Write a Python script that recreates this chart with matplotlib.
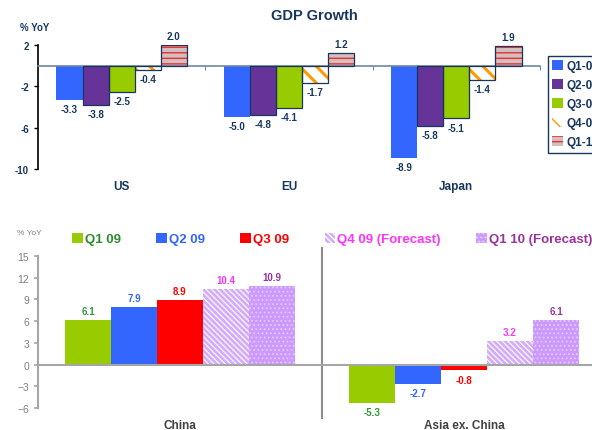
import matplotlib
matplotlib.use('Agg')
import matplotlib.pyplot as plt
import numpy as np

plt.rcParams['font.family'] = ['Liberation Sans', 'DejaVu Sans']
plt.rcParams['hatch.linewidth'] = 1.0

# ---------------- data ----------------
top_regions = ['US', 'EU', 'Japan']
top_series = ['Q1-09', 'Q2-09', 'Q3-09', 'Q4-09', 'Q1-10']
q1_09 = [-3.3, -5.0, -8.9]
q2_09 = [-3.8, -4.8, -5.8]
q3_09 = [-2.5, -4.1, -5.1]
q4_09 = [-0.4, -1.7, -1.4]
q1_10 = [2.0, 1.2, 1.9]
top_yticks = [2, -2, -6, -10]

bot_regions = ['China', 'Asia ex. China']
bot_series = ['Q1 09', 'Q2 09', 'Q3 09', 'Q4 09 (Forecast)', 'Q1 10 (Forecast)']
china = [6.1, 7.9, 8.9, 10.4, 10.9]
asia = [-5.3, -2.7, -0.8, 3.2, 6.1]
bot_yticks = [15, 12, 9, 6, 3, 0, -3, -6]

# ---------------- figure ----------------
W, H = 592, 431
fig = plt.figure(figsize=(W / 100, H / 100), dpi=100)
navy = '#17375E'

fig.text(314 / W, 1 - 16 / H, 'GDP Growth', ha='center', va='center',
         fontsize=10.5, fontweight='bold', color=navy)

# ---------- top chart ----------
ax1 = fig.add_axes([38 / W, 1 - 170 / H, (540 - 38) / W, 124 / H])
top_vals = [q1_09, q2_09, q3_09, q4_09, q1_10]
top_styles = [
    dict(facecolor='#3366FF', edgecolor='#3366FF', hatch=None, outline=False, hlw=1.0),
    dict(facecolor='#663399', edgecolor='#663399', hatch=None, outline=True, hlw=1.0),
    dict(facecolor='#99CC00', edgecolor='#99CC00', hatch=None, outline=True, hlw=1.0),
    dict(facecolor='white', edgecolor='#FF9900', hatch='\\\\', outline=True, hlw=2.2),
    dict(facecolor='#D2BEBE', edgecolor='#E83030', hatch='---', outline=True, hlw=1.0),
]
x = np.arange(len(top_regions))
w = 0.156
handles = []
for i, (vals, st, name) in enumerate(zip(top_vals, top_styles, top_series)):
    pos = x + (i - 2) * w
    with plt.rc_context({'hatch.linewidth': st['hlw']}):
        b = ax1.bar(pos, vals, w, facecolor=st['facecolor'], edgecolor=st['edgecolor'],
                    hatch=st['hatch'], linewidth=0, label=name, zorder=2)
    handles.append(b)
    if st['outline']:
        ax1.bar(pos, vals, w, fill=False, edgecolor=navy, linewidth=0.9, zorder=3)
    for p, v in zip(pos, vals):
        ax1.annotate(f'{v:.1f}', (p, v), xytext=(0, 3 if v > 0 else -3),
                     textcoords='offset points', ha='center',
                     va='bottom' if v > 0 else 'top', fontsize=7,
                     fontweight='bold', color=navy)

ax1.set_xlim(-0.5, 2.5)
ax1.set_ylim(-10, 2)
ax1.set_yticks(top_yticks)
ax1.set_yticklabels([str(t) for t in top_yticks])
ax1.tick_params(axis='y', direction='out', length=3, width=1, colors='black',
                labelsize=7, labelcolor=navy)
for t in ax1.get_yticklabels():
    t.set_fontweight('bold')
ax1.spines['top'].set_visible(False)
ax1.spines['right'].set_visible(False)
ax1.spines['left'].set_linewidth(1.2)
ax1.spines['bottom'].set_position(('data', 0))
ax1.spines['bottom'].set_color('#6E87A3')
ax1.spines['bottom'].set_linewidth(1.2)
ax1.set_xticks([0.5, 1.5, 2.5])
ax1.set_xticklabels([])
ax1.tick_params(axis='x', direction='out', length=3, colors='#6E87A3')
for i, r in enumerate(top_regions):
    ax1.annotate(r, (i, -10), xytext=(0, -12), textcoords='offset points',
                 ha='center', va='center', fontsize=8.5, fontweight='bold',
                 color=navy, annotation_clip=False)
fig.text(20 / W, 1 - 28 / H, '% YoY', ha='left', va='center', fontsize=7,
         fontweight='bold', color=navy)

leg1 = fig.legend(handles=handles, labels=top_series, loc='upper left',
                  bbox_to_anchor=(548 / W, 1 - 57 / H), bbox_transform=fig.transFigure,
                  borderaxespad=0, fancybox=False, edgecolor=navy, framealpha=1,
                  handlelength=0.9, handleheight=0.9, handletextpad=0.3,
                  labelspacing=0.6, borderpad=0.35,
                  prop=dict(size=8.5, weight='bold'), labelcolor=navy)
leg1.get_frame().set_linewidth(1.0)

# ---------- bottom chart ----------
ax2 = fig.add_axes([38 / W, 1 - 409 / H, (606 - 38) / W, 152 / H])
bot_styles = [
    dict(facecolor='#99CC00', edgecolor='#99CC00', hatch=None, text='#339933'),
    dict(facecolor='#3366FF', edgecolor='#3366FF', hatch=None, text='#3366FF'),
    dict(facecolor='#FF0000', edgecolor='#FF0000', hatch=None, text='#FF0000'),
    dict(facecolor='#D4ADFA', edgecolor='white', hatch='\\\\\\\\\\\\', text='#FF33FF'),
    dict(facecolor='#CC99FF', edgecolor='#E6CCFF', hatch='....', text='#993399'),
]
xb = np.arange(len(bot_regions))
wb = 0.162
bhandles = []
for i, (st, name) in enumerate(zip(bot_styles, bot_series)):
    vals = [china[i], asia[i]]
    pos = xb + (i - 2) * wb
    with plt.rc_context({'hatch.linewidth': 0.8}):
        b = ax2.bar(pos, vals, wb, facecolor=st['facecolor'], edgecolor=st['edgecolor'],
                    hatch=st['hatch'], linewidth=0, label=name, zorder=2)
    bhandles.append(b)
    for p, v in zip(pos, vals):
        ax2.annotate(f'{v:.1f}', (p, v), xytext=(0, 3 if v > 0 else -3),
                     textcoords='offset points', ha='center',
                     va='bottom' if v > 0 else 'top', fontsize=7,
                     fontweight='bold', color=st['text'])

gray = '#A6A6A6'
ax2.set_xlim(-0.5, 1.5)
ax2.set_ylim(-6, 15)
ax2.set_yticks(bot_yticks)
ax2.tick_params(axis='y', direction='out', length=3, width=1.2, colors=gray,
                labelsize=7.5, labelcolor='#808080')
ax2.spines['top'].set_visible(False)
ax2.spines['right'].set_visible(False)
ax2.spines['left'].set_color(gray)
ax2.spines['left'].set_linewidth(1.5)
ax2.spines['bottom'].set_position(('data', 0))
ax2.spines['bottom'].set_color(gray)
ax2.spines['bottom'].set_linewidth(1.5)
ax2.set_xticks([])
ax2.axvline(0.5, ymin=-0.066, ymax=1.053, color='#8C8C8C', linewidth=1.5,
            clip_on=False, zorder=1)
for i, r in enumerate(bot_regions):
    ax2.annotate(r, (i, -6), xytext=(0, -12), textcoords='offset points',
                 ha='center', va='center', fontsize=8.5, fontweight='bold',
                 color='#404040', annotation_clip=False)
fig.text(17 / W, 1 - 234 / H, '% YoY', ha='left', va='center', fontsize=6,
         color='#808080')

leg2 = ax2.legend(handles=bhandles, labels=bot_series, ncol=5, loc='center left',
                  bbox_to_anchor=(72 / W, 1 - 240 / H), bbox_transform=fig.transFigure,
                  frameon=False, borderpad=0, borderaxespad=0,
                  handlelength=0.8, handleheight=0.8, handletextpad=0.15,
                  columnspacing=2.7, prop=dict(size=9.5, weight='bold'),
                  labelcolor=['#2E8B2E', '#3366FF', '#FF0000', '#FF33FF', '#993399'])

fig.savefig('out.png', dpi=100)
